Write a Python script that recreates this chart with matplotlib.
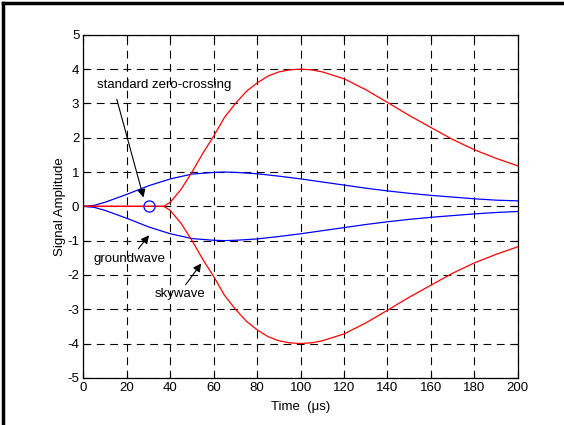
import matplotlib
matplotlib.use('Agg')
import matplotlib.pyplot as plt
from matplotlib.lines import Line2D

plt.rcParams['font.family'] = ['Liberation Sans', 'DejaVu Sans']
plt.rcParams['axes.unicode_minus'] = False

# envelope samples (time in us)
t_ground = [0, 5, 10, 20, 30, 40, 50, 60, 65, 70, 80, 90, 100, 110, 120, 130, 140, 150, 160, 170, 180, 190, 200]
ground_up = [0, 0.03, 0.12, 0.35, 0.6, 0.8, 0.94, 0.99, 1.0, 0.99, 0.95, 0.88, 0.8, 0.71, 0.62, 0.53, 0.45, 0.38, 0.32, 0.27, 0.22, 0.18, 0.16]
ground_lo = [0, -0.03, -0.12, -0.35, -0.6, -0.8, -0.94, -0.99, -1.0, -0.99, -0.95, -0.88, -0.8, -0.71, -0.62, -0.53, -0.45, -0.38, -0.32, -0.27, -0.22, -0.18, -0.15]

t_sky = [0, 30, 37, 40, 45, 50, 55, 60, 65, 70, 75, 80, 85, 90, 95, 100, 105, 110, 120, 130, 140, 150, 160, 170, 180, 190, 200]
sky_up = [0, 0, 0, 0.12, 0.5, 1.0, 1.55, 2.05, 2.6, 3.0, 3.35, 3.6, 3.8, 3.92, 3.98, 4.0, 3.98, 3.92, 3.72, 3.4, 3.03, 2.65, 2.3, 1.95, 1.65, 1.4, 1.18]
sky_lo = [-v for v in sky_up]

zero_cross = (30, 0)

fig = plt.figure(figsize=(5.64, 4.25), dpi=100)
ax = fig.add_axes([0.148, 0.111, 0.770, 0.807])

ax.plot(t_ground, ground_up, color='blue', lw=0.9)
ax.plot(t_ground, ground_lo, color='blue', lw=0.9)
ax.plot(t_sky, sky_up, color='red', lw=0.9)
ax.plot(t_sky, sky_lo, color='red', lw=0.9)
ax.plot([zero_cross[0]], [zero_cross[1]], 'o', mfc='none', mec='blue', ms=8, mew=0.9)

ax.set_xlim(0, 200)
ax.set_ylim(-5, 5)
ax.set_xticks(range(0, 201, 20))
ax.set_yticks(range(-5, 6))
ax.grid(True, color='black', linestyle=(0, (7, 5)), lw=0.8)
ax.tick_params(direction='in', top=True, right=True, labelsize=9.5, length=4, pad=3)
for s in ax.spines.values():
    s.set_linewidth(0.9)
ax.set_xlabel('Time  (\u03bcs)', fontsize=9.5, labelpad=5)
ax.set_ylabel('Signal Amplitude', fontsize=9.5, labelpad=1)

arrow = dict(arrowstyle='-|>', color='black', lw=0.8, mutation_scale=12)
ax.annotate('standard zero-crossing', xy=(6, 3.55), fontsize=9.5, va='center')
ax.annotate('', xy=(28, 0.18), xytext=(15, 3.2), arrowprops=arrow)
ax.annotate('groundwave', xy=(4.5, -1.55), fontsize=9.5, va='center')
ax.annotate('', xy=(31, -0.78), xytext=(24.5, -1.3), arrowprops=arrow)
ax.annotate('skywave', xy=(33, -2.55), fontsize=9.5, va='center')
ax.annotate('', xy=(55, -1.6), xytext=(46.3, -2.35), arrowprops=arrow)

# figure frame (top and left edges visible in the crop)
fig.add_artist(Line2D([0.006, 0.006], [0, 0.993], color='black', lw=2.5, transform=fig.transFigure))
fig.add_artist(Line2D([0.006, 1], [0.993, 0.993], color='black', lw=2.5, transform=fig.transFigure))

fig.savefig('out.png', dpi=100)
